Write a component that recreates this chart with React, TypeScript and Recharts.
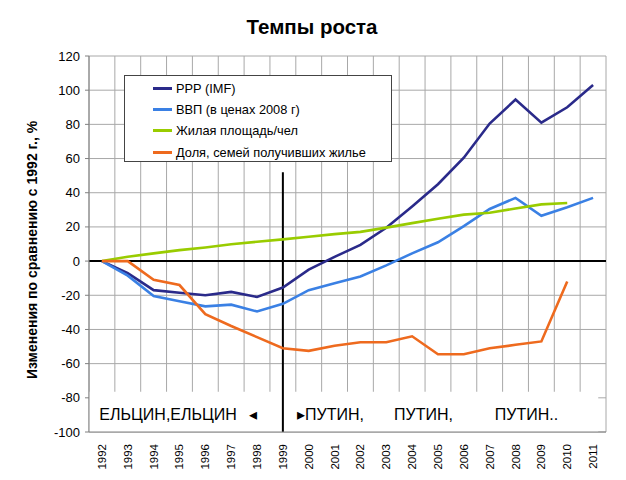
import React from 'react';
import {
  LineChart,
  Line,
  XAxis,
  YAxis,
  CartesianGrid,
  ReferenceLine,
  ReferenceArea,
  ReferenceDot,
  Legend,
} from 'recharts';

const years = [1992, 1993, 1994, 1995, 1996, 1997, 1998, 1999, 2000, 2001, 2002, 2003, 2004, 2005, 2006, 2007, 2008, 2009, 2010, 2011];
const ppp = [0, -7, -17, -18.5, -20, -18, -21, -15.5, -5, 2.5, 9.5, 19.5, 32, 45, 60.5, 80.5, 94.5, 81, 90, 103];
const gdp = [0, -8.5, -20.5, -23.5, -26.5, -25.5, -29.5, -25, -17, -13, -9, -2.5, 4.5, 11, 20.5, 30.5, 37, 26.5, 31.5, 37];
const housing = [0, 2.5, 4.5, 6.4, 8, 9.9, 11.3, 12.7, 14.2, 15.8, 17.1, 19.6, 22.2, 24.8, 27.2, 28.3, 30.8, 33.2, 34, null];
const share = [0, 0, -11, -14, -31, -38, -44.5, -51, -52.5, -49.5, -47.5, -47.5, -44, -54.5, -54.5, -51, -49, -47, -12, null];

const yTicks = [-100, -80, -60, -40, -20, 0, 20, 40, 60, 80, 100, 120];
const gridTicks = [1991.5, 1992.5, 1993.5, 1994.5, 1995.5, 1996.5, 1997.5, 1998.5, 1999.5, 2000.5, 2001.5, 2002.5, 2003.5, 2004.5, 2005.5, 2006.5, 2007.5, 2008.5, 2009.5, 2010.5, 2011.5];

const seriesNames = ['PPP (IMF)', 'ВВП (в ценах 2008 г)', 'Жилая площадь/чел', 'Доля, семей получивших жилье'];
const seriesKeys = ['ppp', 'gdp', 'housing', 'share'];
const seriesColors = ['#2A2A8A', '#3A80E4', '#99CC00', '#EE6A1E'];

const data = years.map((year, i) => ({
  year,
  ppp: ppp[i],
  gdp: gdp[i],
  housing: housing[i],
  share: share[i],
}));

const FONT = '"Liberation Sans", Arial, sans-serif';

const XTick = (props: any) => {
  const { x, y, payload } = props;
  return (
    <text
      x={x}
      y={y}
      transform={`rotate(-90 ${x} ${y})`}
      textAnchor="end"
      dominantBaseline="central"
      fontSize={11.5}
      fontFamily={FONT}
      fill="#000"
    >
      {payload.value}
    </text>
  );
};

const EmptyTick = () => <g />;

const YTick = (props: any) => {
  const { x, y, payload } = props;
  return (
    <text x={x} y={y} textAnchor="end" dominantBaseline="central" fontSize={13} fontFamily={FONT} fill="#000">
      {payload.value}
    </text>
  );
};

const YLabel = () => (
  <text
    x={37}
    y={250}
    transform="rotate(-90 37 250)"
    textAnchor="middle"
    fontSize={14}
    fontWeight="bold"
    fontFamily={FONT}
    fill="#000"
  >
    Изменения по сравнению с 1992 г., %
  </text>
);

const LegendBox = () => (
  <div
    style={{
      border: '1px solid #444',
      background: '#fff',
      width: 266,
      height: 83,
      paddingTop: 1.5,
      boxSizing: 'content-box',
      fontFamily: FONT,
      fontSize: 12.8,
      color: '#000',
    }}
  >
    {seriesNames.map((name, i) => (
      <div key={name} style={{ display: 'flex', alignItems: 'center', height: 21.3 }}>
        <div style={{ marginLeft: 28, width: 19, height: 3, background: seriesColors[i] }} />
        <span style={{ marginLeft: 4, whiteSpace: 'nowrap' }}>{name}</span>
      </div>
    ))}
  </div>
);

const textShape = (label: string) => (props: any) => (
  <text x={props.cx} y={props.cy} fontSize={16} fontFamily={FONT} fill="#000">
    {label}
  </text>
);

export default function App() {
  return (
    <div style={{ position: 'absolute', left: 0, top: 0, width: 626, height: 480, background: '#fff' }}>
      <div
        style={{
          position: 'absolute',
          left: 0,
          top: 17,
          width: 624,
          textAlign: 'center',
          fontFamily: FONT,
          fontWeight: 'bold',
          fontSize: 20.5,
          lineHeight: '20px',
          color: '#000',
        }}
      >
        Темпы роста
      </div>
      <LineChart width={626} height={480} data={data} margin={{ top: 56, right: 20, bottom: 0, left: 0 }}>
        <XAxis
          xAxisId="grid"
          type="number"
          dataKey="year"
          domain={[1991.5, 2011.5]}
          ticks={gridTicks}
          interval={0}
          height={0}
          axisLine={false}
          tick={<EmptyTick />}
          tickLine={{ stroke: '#808080' }}
          tickSize={5}
          allowDataOverflow
        />
        <XAxis
          type="number"
          dataKey="year"
          domain={[1991.5, 2011.5]}
          ticks={years}
          interval={0}
          height={48}
          axisLine={{ stroke: '#808080' }}
          tickLine={false}
          tickSize={0}
          tickMargin={12}
          tick={<XTick />}
          allowDataOverflow
        />
        <YAxis
          type="number"
          domain={[-100, 120]}
          ticks={yTicks}
          interval={0}
          width={89}
          axisLine={{ stroke: '#808080' }}
          tickLine={{ stroke: '#808080' }}
          tickSize={4}
          tickMargin={5}
          tick={<YTick />}
          label={{ content: <YLabel /> }}
        />
        <CartesianGrid xAxisId="grid" stroke="#a8a8a8" strokeWidth={1} />
        <ReferenceArea x1={1991.5} x2={2011.2} y1={-100} y2={-76.5} fill="#fff" fillOpacity={1} stroke="none" />
        <ReferenceLine y={0} stroke="#000" strokeWidth={2} />
        <ReferenceLine
          segment={[
            { x: 1999, y: 52 },
            { x: 1999, y: -100 },
          ]}
          stroke="#000"
          strokeWidth={2}
        />
        {seriesKeys.map((key, i) => (
          <Line
            key={key}
            type="linear"
            dataKey={key}
            name={seriesNames[i]}
            stroke={seriesColors[i]}
            strokeWidth={2.6}
            dot={false}
            activeDot={false}
            isAnimationActive={false}
            connectNulls={false}
          />
        ))}
        <ReferenceDot x={1991.9} y={-93} r={0} shape={textShape('ЕЛЬЦИН,ЕЛЬЦИН')} />
        <ReferenceDot x={1997.7} y={-93} r={0} shape={textShape('◂')} />
        <ReferenceDot x={1999.55} y={-93} r={0} shape={textShape('▸ПУТИН,')} />
        <ReferenceDot x={2003.3} y={-93} r={0} shape={textShape('ПУТИН,')} />
        <ReferenceDot x={2007.2} y={-93} r={0} shape={textShape('ПУТИН..')} />
        <Legend
          layout="vertical"
          align="center"
          verticalAlign="middle"
          content={<LegendBox />}
          wrapperStyle={{ position: 'absolute', left: 124, top: 75, width: 268, height: 85 }}
        />
      </LineChart>
    </div>
  );
}
